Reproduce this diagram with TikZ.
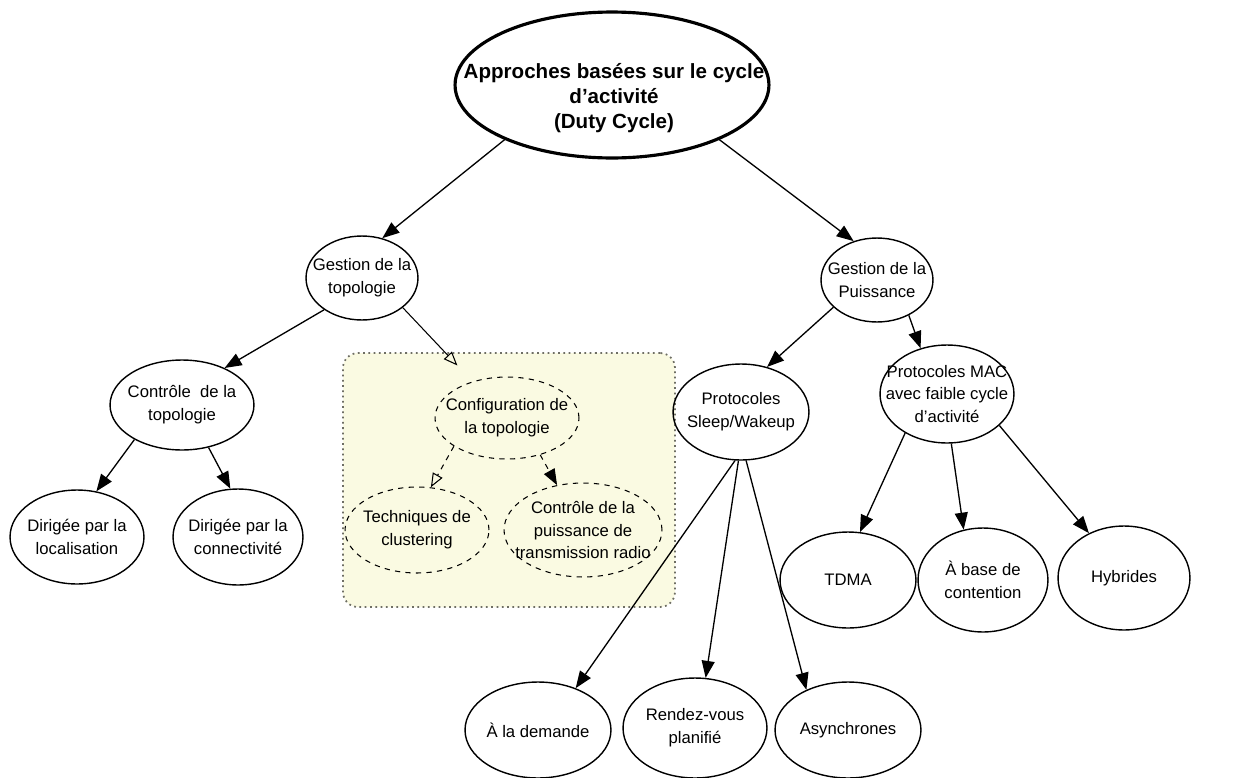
\documentclass[tikz,border=0pt]{standalone}
\usepackage{fontspec}
\setmainfont{Liberation Sans}
\usetikzlibrary{shapes.geometric,arrows.meta}
\definecolor{boxfill}{RGB}{250,250,226}
\definecolor{boxline}{RGB}{110,110,100}
\tikzset{
  oval/.style 2 args={ellipse, draw, line width=0.8pt,
    minimum width={#1*0.04cm}, minimum height={#2*0.04cm}, inner sep=0pt},
  dashoval/.style 2 args={oval={#1}{#2}, dashed, line width=0.6pt},
  lbl/.style={align=center, inner sep=0pt, font=\fontsize{9.5}{13}\selectfont},
  toplbl/.style={align=center, inner sep=0pt, font=\bfseries\fontsize{11.7}{14.2}\selectfont},
  arr/.style={-{Triangle[length=0.34cm,width=0.26cm]}, line width=0.75pt},
  darr/.style={-{Triangle[length=0.32cm,width=0.24cm]}, line width=0.6pt, dashed},
  odarr/.style={-{Triangle[open,length=0.28cm,width=0.22cm]}, line width=0.6pt, dashed}
}
\begin{document}
\begin{tikzpicture}[x=0.02cm,y=-0.02cm]
\useasboundingbox (0,0) rectangle (1242,778);

% grouped area for the topology configuration
\node[draw=boxline, dotted, line width=1pt, fill=boxfill, rounded corners=0.3cm,
      minimum width={332*0.02cm}, minimum height={254*0.02cm}, inner sep=0pt] (grp) at (509,480) {};

% root
\node[oval={157}{73}, line width=1.8pt] (top) at (612,85) {};
\node[toplbl] (topt) at (614,98) {Approches basées sur le cycle\\d’activité\\(Duty Cycle)};

% second level
\node[oval={56}{42}] (gt) at (362,278) {};
\node[lbl] (gtt) at (gt) {Gestion de la\\topologie};
\node[oval={56}{42}] (gp) at (877,280) {};
\node[lbl] (gpt) at (gp) {Gestion de la\\Puissance};

% topology branch
\node[oval={72}{45}] (ct) at (182,405) {};
\node[lbl] (ctt) at (ct) {Contrôle~ de la\\topologie};
\node[oval={67}{47}] (dl) at (77,537) {};
\node[lbl] (dlt) at (dl) {Dirigée par la\\localisation};
\node[oval={65}{48}] (dc) at (238,537) {};
\node[lbl] (dct) at (dc) {Dirigée par la\\connectivité};

\node[dashoval={72}{41}] (cfg) at (507,418) {};
\node[lbl] (cfgt) at (cfg) {Configuration de\\la topologie};
\node[dashoval={72}{43}] (tech) at (417,530) {};
\node[lbl] (techt) at (tech) {Techniques de\\clustering};
\node[dashoval={79}{47}] (cp) at (583,530) {};
\node[lbl] (cpt) at (cp) {Contrôle de la\\puissance de\\transmission radio};

% power branch
\node[oval={68}{48}] (sleep) at (741,412) {};
\node[lbl] (sleept) at (sleep) {Protocoles\\Sleep/Wakeup};
\node[oval={67}{49}] (mac) at (947,394) {};
\node[lbl] (mact) at (mac) {Protocoles MAC\\avec faible cycle\\d’activité};

\node[oval={68}{48}] (tdma) at (848,580) {};
\node[lbl] (tdmat) at (tdma) {TDMA};
\node[oval={65}{52}] (abase) at (983,580) {};
\node[lbl] (abaset) at (abase) {À base de\\contention};
\node[oval={66}{52}] (hyb) at (1124,578) {};
\node[lbl] (hybt) at (hyb) {Hybrides};

\node[oval={73}{48}] (dem) at (538,730) {};
\node[lbl] (demt) at (dem) {À la demande};
\node[oval={72}{50}] (rv) at (695,728) {};
\node[lbl] (rvt) at (rv) {Rendez-vous\\planifié};
\node[oval={73}{48}] (asy) at (848,730) {};
\node[lbl] (asyt) at (asy) {Asynchrones};

% connectors
\draw[arr] (top.207) -- (gt.63);
\draw[arr] (top.333) -- (gp.121);
\draw[arr] (gt.220) -- (ct.41);
\draw[odarr, solid, shorten >=0.44cm] (gt.324) -- (cfg);
\draw[odarr] (cfg.208) -- (tech.72);
\draw[darr] (cfg.312) -- (cp.120);
\draw[arr] (ct.216) -- (dl.67);
\draw[arr] (ct.302) -- (dc.99);
\draw[arr] (gp.212) -- (sleep.60);
\draw[arr] (gp.312) -- (mac.120);
\draw[arr] (sleep.-97) -- (dem.48);
\draw[arr] (sleep.-93) -- (rv.78);
\draw[arr] (sleep.-84) -- (asy.136);
\draw[arr] (mac.223) -- (tdma.76);
\draw[arr] (mac.275) -- (abase.111);
\draw[arr] (mac.329) -- (hyb.128);
\end{tikzpicture}
\end{document}
